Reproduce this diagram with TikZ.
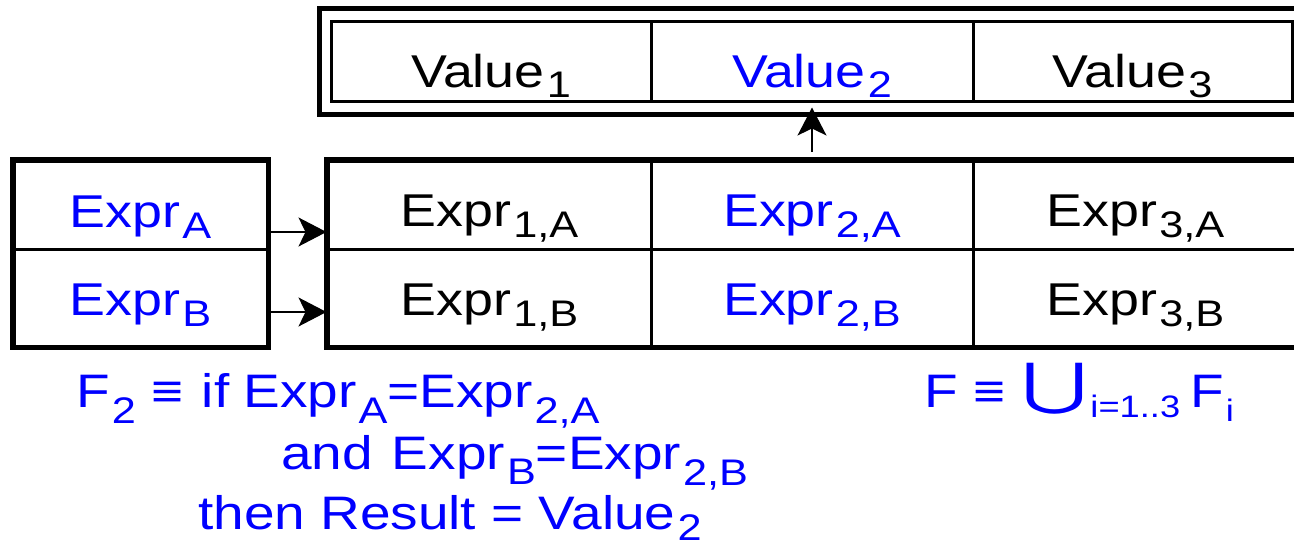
\documentclass[tikz,border=0pt]{standalone}
\usepackage{fontspec}
\setmainfont{Liberation Sans}[FakeStretch=1.17]
\newfontfamily\djv{DejaVu Sans}
\usetikzlibrary{arrows.meta}
\definecolor{tblue}{RGB}{0,0,255}
\newcommand{\subx}[2][11pt]{\kern2pt\raisebox{-#1}[0pt][#1]{\fontsize{37}{37}\selectfont #2}}
\newcommand{\subs}[2][10pt]{\kern2pt\raisebox{-#1}[0pt][#1]{\fontsize{31}{31}\selectfont #2}}
\begin{document}
\begin{tikzpicture}[x=1pt,y=1pt,
  cell/.style={draw, line width=3pt, inner sep=0pt, minimum width=#1},
  txt/.style={font=\fontsize{46}{50}\selectfont, inner sep=0pt, anchor=base},
  ftxt/.style={font=\fontsize{47}{50}\selectfont, inner sep=0pt, anchor=base west, text=tblue},
  frame/.style={draw, line width=4.5pt},
  arr/.style={-{Stealth[length=28pt,width=29pt,inset=7pt]}, line width=1.4pt},
  blu/.style={text=tblue}]
\useasboundingbox (0,0) rectangle (1294,-546);
% value table
\node[cell=320pt, minimum height=80pt] (V1) at (491,-61) {};
\node[cell=322pt, minimum height=80pt] (V2) at (812,-61) {};
\node[cell=319pt, minimum height=80pt] (V3) at (1132.5,-61) {};
\draw[frame] ([shift={(-10pt,11pt)}]V1.north west) rectangle ([shift={(13pt,-12pt)}]V3.south east);
\node[txt] (tV1) at (491,-87) {Value\subx[10pt]{1}};
\node[txt,blu] (tV2) at (812,-87) {Value\subx[10pt]{2}};
\node[txt] (tV3) at (1132.5,-87) {Value\subx[10pt]{3}};
% left table
\node[cell=253pt, minimum height=88pt] (LA) at (140.5,-205) {};
\node[cell=253pt, minimum height=97pt] (LB) at (140.5,-297.5) {};
\draw[frame] (LA.north west) rectangle (LB.south east);
\node[txt,blu] (tLA) at (140.5,-227) {Expr\subx{A}};
\node[txt,blu] (tLB) at (140.5,-315) {Expr\subx{B}};
% right table
\node[cell=323pt, minimum height=88pt] (R1A) at (489.5,-205) {};
\node[cell=322pt, minimum height=88pt] (R2A) at (812,-205) {};
\node[cell=325pt, minimum height=88pt] (R3A) at (1135.5,-205) {};
\node[cell=323pt, minimum height=97pt] (R1B) at (489.5,-297.5) {};
\node[cell=322pt, minimum height=97pt] (R2B) at (812,-297.5) {};
\node[cell=325pt, minimum height=97pt] (R3B) at (1135.5,-297.5) {};
\draw[frame] (R1A.north west) rectangle (R3B.south east);
\node[txt] (t1A) at (489.5,-226) {Expr\subx{1,A}};
\node[txt,blu] (t2A) at (812,-226) {Expr\subx{2,A}};
\node[txt] (t3A) at (1135.5,-226) {Expr\subx{3,A}};
\node[txt] (t1B) at (489.5,-315) {Expr\subx{1,B}};
\node[txt,blu] (t2B) at (812,-315) {Expr\subx{2,B}};
\node[txt] (t3B) at (1135.5,-315) {Expr\subx{3,B}};
% arrows
\draw[arr] ([yshift=-27pt]LA.east) -- ([yshift=-27pt]R1A.west);
\draw[arr] ([yshift=-14.5pt]LB.east) -- ([yshift=-14.5pt]R1B.west);
\draw[arr] ([yshift=8pt]R2A.north) -- ([yshift=-5pt]V2.south);
% formulas
\node[ftxt] (f1) at (76,-407) {F\subx[16pt]{2}\hspace{16pt}≡\hspace{18pt}if\hspace{14pt}Expr\subx[16pt]{A}=Expr\subx[16pt]{2,A}};
\node[ftxt] (f2) at (281,-469) {and\hspace{19pt}Expr\subx[15pt]{B}=Expr\subx[16pt]{2,B}};
\node[ftxt] (f3) at (198,-529) {then Result = Value\subx[11pt]{2}};
\node[ftxt] (f4) at (924,-407) {F\hspace{16pt}≡\hspace{16pt}{\djv\fontsize{56}{56}\selectfont\raisebox{4pt}{\scalebox{1.45}[1]{⋃}}}\subs{i=1..3}\hspace{10pt}F\subs[14pt]{i}};
\end{tikzpicture}
\end{document}
